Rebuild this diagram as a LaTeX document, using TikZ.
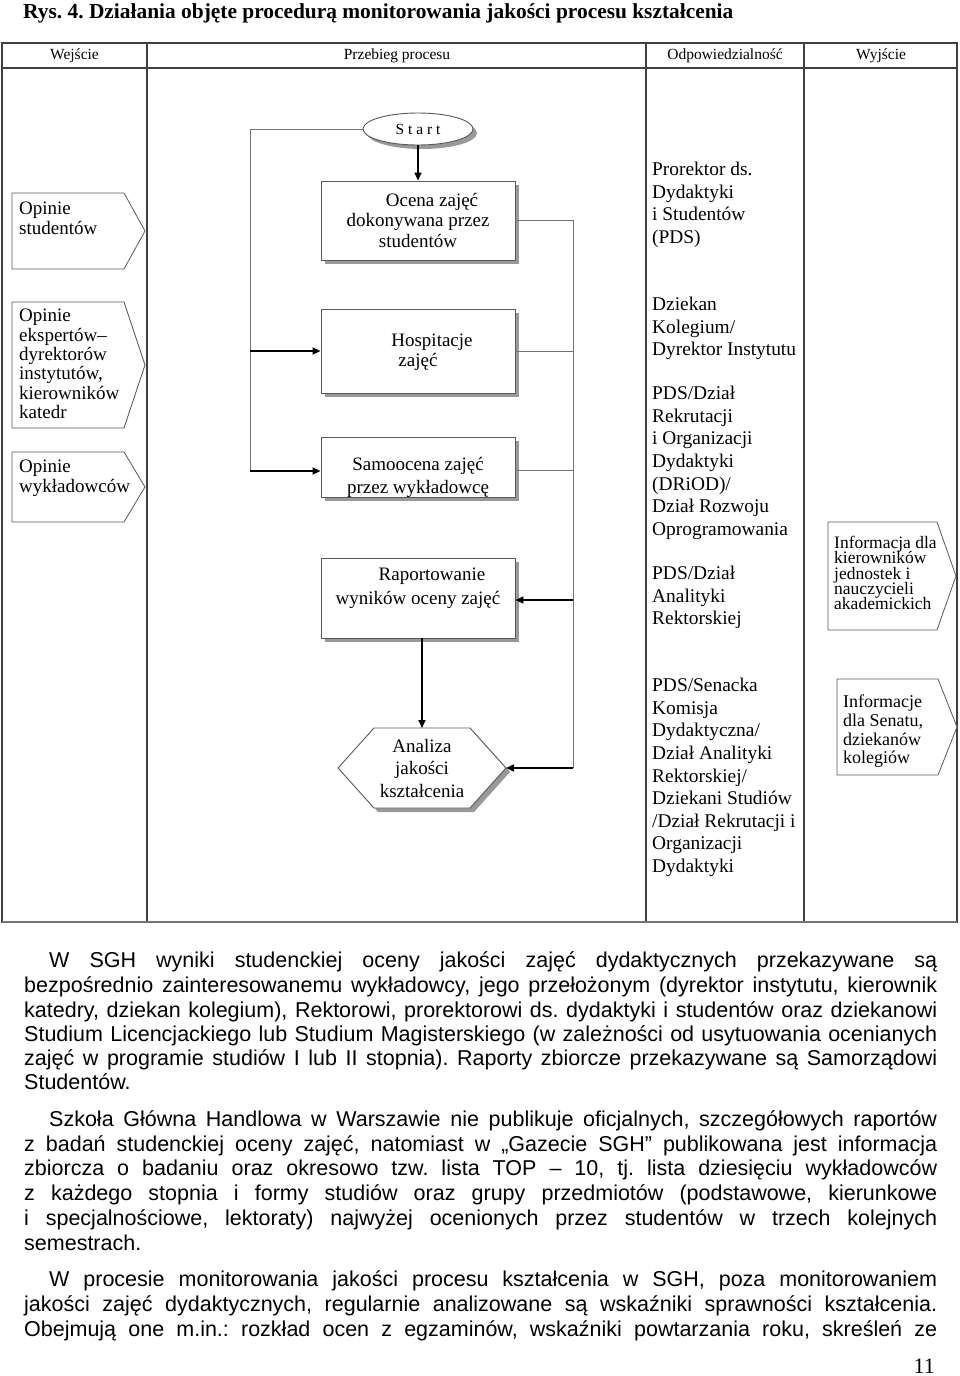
\documentclass[tikz,border=0pt]{standalone}
\usepackage{fontspec}
\setmainfont{Liberation Serif}
\newfontfamily\arialf{Liberation Sans}
\usetikzlibrary{arrows.meta,shadows,shapes.geometric}
\newcommand{\jline}[2]{\makebox[#1pt][s]{#2}}
\newcommand{\nolsl}{\lineskiplimit=-100pt\relax}
\frenchspacing
\begin{document}
\begin{tikzpicture}[x=1pt,y=-1pt,
  frame/.style={draw=black!75,line width=1.1pt},
  procbox/.style={draw=black!65,line width=0.9pt,fill=white,inner sep=0pt,minimum width=194pt,
    drop shadow={shadow xshift=4pt,shadow yshift=-4pt,fill=black!40,opacity=1}},
  boxtxt/.style={align=center,inner sep=0pt,font=\fontsize{19}{20.5}\selectfont},
  sidetxt/.style={align=left,inner sep=0pt,anchor=north west,font=\fontsize{19}{19.4}\selectfont\nolsl},
  resptxt/.style={align=left,inner sep=0pt,anchor=north west,font=\fontsize{19.4}{22.6}\selectfont},
  outtxt/.style={align=left,inner sep=0pt,anchor=north west},
  shapeline/.style={draw=black!65,line width=0.8pt,fill=white},
  thinline/.style={draw=black!55,line width=0.9pt},
  arrowline/.style={draw=black,line width=1.8pt,-{Triangle[length=8pt,width=7pt]}},
  hdr/.style={font=\fontsize{15.5}{16}\selectfont,inner sep=0pt},
  bodyline/.style={anchor=base west,inner sep=0pt,font=\arialf\fontsize{21.5}{24.5}\selectfont\frenchspacing},
]
\useasboundingbox (0,0) rectangle (960,1376);
\fill[white] (0,0) rectangle (960,1376);

% title
\node (title) [anchor=base west,inner sep=0pt,font=\bfseries\fontsize{21.4}{21.4}\selectfont] at (23,18)
  {Rys. 4. Działania objęte procedurą monitorowania jakości procesu kształcenia};

% table
\draw[frame] (2,43) rectangle (957,922);
\draw[frame] (2,68) -- (957,68);
\draw[frame] (147,43) -- (147,922);
\draw[frame] (646,43) -- (646,922);
\draw[frame] (804,43) -- (804,922);
\draw[draw=black!55,line width=2.5pt] (2,922) -- (957,922);

\node (h1) [hdr] at (74.5,55.5) {Wejście};
\node (h2) [hdr] at (397,55.5) {Przebieg procesu};
\node (h3) [hdr] at (725,55.5) {Odpowiedzialność};
\node (h4) [hdr] at (881,55.5) {Wyjście};

% start
\node (start) [ellipse,draw=black!65,line width=0.9pt,fill=white,minimum width=110pt,minimum height=32pt,inner sep=0pt,
  drop shadow={shadow xshift=4pt,shadow yshift=-4pt,fill=black!40,opacity=1},
  font=\fontsize{15.5}{15.5}\selectfont] at (418,129) {S t a r t};

% process boxes
\node (ocena) [procbox,minimum height=79pt] at (418,220.5) {};
\node (hosp) [procbox,minimum height=84pt] at (418,351) {};
\node (samo) [procbox,minimum height=60pt] at (418,467) {};
\node (rap) [procbox,minimum height=80pt] at (418,598) {};

\node (ocenaT) [boxtxt] at (418,220) {\hspace*{28pt}Ocena zajęć\\dokonywana przez\\studentów};
\node (hospT) [boxtxt,font=\fontsize{19}{20}\selectfont] at (418,352) {\hspace*{28pt}Hospitacje\\zajęć};
\node (samoT) [boxtxt,font=\fontsize{19}{23}\selectfont] at (418,477) {Samoocena zajęć\\przez wykładowcę};
\node (rapT) [boxtxt,font=\fontsize{19}{24}\selectfont] at (418,588) {\hspace*{28pt}Raportowanie\\wyników oceny zajęć};

% hexagon
\fill[black!40] (342,772) -- (378,732) -- (474,732) -- (510,772) -- (474,812) -- (378,812) -- cycle;
\draw[shapeline,line width=0.9pt] (338,768) -- (374,728) -- (470,728) -- (506,768) -- (470,808) -- (374,808) -- cycle;
\coordinate (hexR) at (506,768);
\coordinate (hexT) at (422,728);
\node (anal) [boxtxt,font=\fontsize{19}{22.5}\selectfont] at (422,768) {Analiza\\jakości\\kształcenia};

% connectors
\coordinate (lc) at (250,129);
\coordinate (lcb) at (250,471);
\coordinate (rcb) at (573,768);
\draw[thinline] (start.west) -- (lc) -- (lcb);
\draw[arrowline] (lc |- hosp.west) -- (hosp.west);
\draw[arrowline] (lcb) -- (lcb -| samo.west);
\draw[arrowline,line width=1.5pt] (start.south) -- (ocena.north);
\draw[thinline] (ocena.east) -| (rcb);
\draw[thinline] (hosp.east) -- (hosp.east -| rcb);
\draw[thinline] ([yshift=-3pt]samo.east) -- ([yshift=-3pt]samo.east -| rcb);
\draw[arrowline] ([yshift=-2pt]rap.east -| rcb) -- ([yshift=-2pt]rap.east);
\draw[arrowline] (rcb) -- (hexR);
\draw[arrowline] (rap.south -| hexT) -- (hexT);

% input shapes
\draw[shapeline] (12,193) -- (124,193) -- (145,231) -- (124,269) -- (12,269) -- cycle;
\node (in1) [sidetxt] at (19,202) {Opinie\\studentów};
\draw[shapeline] (12,302) -- (124,302) -- (145,365) -- (124,428) -- (12,428) -- cycle;
\node (in2) [sidetxt] at (19,309) {Opinie\\ekspertów–\\dyrektorów\\instytutów,\\kierowników\\katedr};
\draw[shapeline] (12,452) -- (124,452) -- (145,487) -- (124,522) -- (12,522) -- cycle;
\node (in3) [sidetxt] at (19,460) {Opinie\\wykładowców};

% responsibility
\node (r1) [resptxt] at (652,162) {Prorektor ds.\\Dydaktyki\\i Studentów\\(PDS)};
\node (r2) [resptxt] at (652,297) {Dziekan\\Kolegium/\\Dyrektor Instytutu};
\node (r3) [resptxt] at (652,386) {PDS/Dział\\Rekrutacji\\i Organizacji\\Dydaktyki\\(DRiOD)/\\Dział Rozwoju\\Oprogramowania};
\node (r4) [resptxt] at (652,566) {PDS/Dział\\Analityki\\Rektorskiej};
\node (r5) [resptxt] at (652,678) {PDS/Senacka\\Komisja\\Dydaktyczna/\\Dział Analityki\\Rektorskiej/\\Dziekani Studiów\\/Dział Rekrutacji i\\Organizacji\\Dydaktyki};

% outputs
\draw[shapeline] (828,522) -- (937,522) -- (956,576) -- (937,630) -- (828,630) -- cycle;
\node (o1) [outtxt,font=\fontsize{17.5}{15.3}\selectfont\nolsl] at (834,536) {Informacja dla\\kierowników\\jednostek i\\nauczycieli\\akademickich};
\draw[shapeline] (837,679) -- (938,679) -- (957,727) -- (938,775) -- (837,775) -- cycle;
\node (o2) [outtxt,font=\fontsize{18}{18.7}\selectfont] at (843,695) {Informacje\\dla Senatu,\\dziekanów\\kolegiów};

% body text
\node (p1a) [bodyline] at (49,967) {\jline{888}{W SGH wyniki studenckiej oceny jakości zajęć dydaktycznych przekazywane są}};
\node (p1b) [bodyline] at (24,992) {\jline{913}{bezpośrednio zainteresowanemu wykładowcy, jego przełożonym (dyrektor instytutu, kierownik}};
\node (p1c) [bodyline] at (24,1017) {\jline{913}{katedry, dziekan kolegium), Rektorowi, prorektorowi ds. dydaktyki i studentów oraz dziekanowi}};
\node (p1d) [bodyline] at (24,1041) {\jline{913}{Studium Licencjackiego lub Studium Magisterskiego (w zależności od usytuowania ocenianych}};
\node (p1e) [bodyline] at (24,1065) {\jline{913}{zajęć w programie studiów I lub II stopnia). Raporty zbiorcze przekazywane są Samorządowi}};
\node (p1f) [bodyline] at (24,1089) {Studentów.};

\node (p2a) [bodyline] at (49,1126) {\jline{888}{Szkoła Główna Handlowa w Warszawie nie publikuje oficjalnych, szczegółowych raportów}};
\node (p2b) [bodyline] at (24,1151) {\jline{913}{z badań studenckiej oceny zajęć, natomiast w „Gazecie SGH” publikowana jest informacja}};
\node (p2c) [bodyline] at (24,1175) {\jline{913}{zbiorcza o badaniu oraz okresowo tzw. lista TOP – 10, tj. lista dziesięciu wykładowców}};
\node (p2d) [bodyline] at (24,1200) {\jline{913}{z każdego stopnia i formy studiów oraz grupy przedmiotów (podstawowe, kierunkowe}};
\node (p2e) [bodyline] at (24,1225) {\jline{913}{i specjalnościowe, lektoraty) najwyżej ocenionych przez studentów w trzech kolejnych}};
\node (p2f) [bodyline] at (24,1250) {semestrach.};

\node (p3a) [bodyline] at (49,1286) {\jline{888}{W procesie monitorowania jakości procesu kształcenia w SGH, poza monitorowaniem}};
\node (p3b) [bodyline] at (24,1311) {\jline{913}{jakości zajęć dydaktycznych, regularnie analizowane są wskaźniki sprawności kształcenia.}};
\node (p3c) [bodyline] at (24,1336) {\jline{913}{Obejmują one m.in.: rozkład ocen z egzaminów, wskaźniki powtarzania roku, skreśleń ze}};

\node (pg) [anchor=base east,inner sep=0pt,font=\fontsize{22}{22}\selectfont] at (935,1373) {11};
\end{tikzpicture}
\end{document}
